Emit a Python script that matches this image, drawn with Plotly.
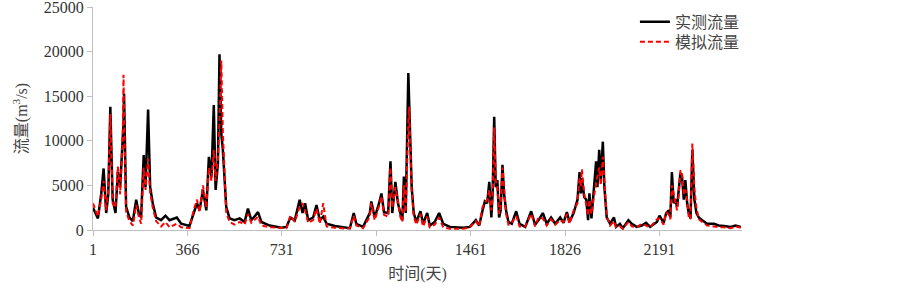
import plotly.graph_objects as go

days = [1, 10, 20, 33, 42, 52, 60, 68, 77, 88, 97, 106, 116, 119, 121, 129, 142, 155, 168, 178,
        187, 197, 204, 214, 222, 232, 245, 264, 281, 297, 325, 342, 374, 390, 403, 413, 426, 439,
        449, 459, 468, 475, 484, 490, 497, 503, 510, 516, 529, 548, 568, 587, 600, 613, 639, 652,
        684, 729, 749, 764, 781, 800, 811, 821, 833, 852, 865, 878, 891, 904, 936, 981, 994, 1009,
        1019, 1045, 1071, 1077, 1090, 1107, 1116, 1126, 1142, 1151, 1158, 1170, 1180, 1189, 1197,
        1203, 1210, 1220, 1223, 1233, 1241, 1251, 1267, 1277, 1293, 1303, 1322, 1339, 1355, 1381,
        1432, 1458, 1481, 1494, 1507, 1516, 1525, 1533, 1541, 1546, 1552, 1558, 1564, 1571, 1577,
        1584, 1590, 1598, 1607, 1620, 1637, 1650, 1672, 1695, 1710, 1723, 1740, 1755, 1772, 1788,
        1807, 1820, 1833, 1843, 1859, 1874, 1882, 1887, 1891, 1900, 1908, 1915, 1920, 1928, 1936,
        1946, 1951, 1958, 1964, 1972, 1978, 1987, 2000, 2015, 2023, 2038, 2049, 2071, 2084, 2103,
        2122, 2139, 2155, 2181, 2191, 2207, 2217, 2227, 2233, 2239, 2246, 2252, 2259, 2265, 2272,
        2278, 2285, 2291, 2298, 2304, 2311, 2318, 2326, 2334, 2343, 2356, 2375, 2401, 2420, 2440,
        2466, 2485, 2505]

observed = [2500, 2000, 1300, 4100, 6900, 1900, 4000, 13800, 3400, 1900, 6500, 4800, 10000, 12000, 15300,
            2600, 1400, 1000, 3400, 1900, 1400, 8400, 4800, 13500, 4800, 3000, 1400, 1100, 1600, 1100,
            1400, 700, 450, 1900, 3000, 2200, 4500, 2200, 8200, 6000, 14000, 4500, 7500, 19700, 10800,
            9000, 4800, 2600, 1300, 1100, 1300, 900, 2400, 1100, 2000, 900, 500, 250, 350, 1400, 1100,
            3400, 1900, 3000, 1100, 1400, 2800, 1100, 1500, 700, 450, 200, 200, 1900, 700, 350, 1900,
            3200, 1400, 3000, 4100, 2000, 1900, 7700, 1900, 5400, 3000, 1900, 1100, 6000, 1900, 17600,
            14000, 4800, 1900, 900, 2100, 700, 1900, 500, 900, 1900, 700, 350, 250, 350, 1100, 500,
            2200, 3200, 3000, 5400, 1400, 4100, 12700, 4800, 5600, 1400, 2200, 7300, 4100, 2200, 900,
            700, 2100, 700, 350, 2100, 600, 1100, 1900, 700, 1400, 700, 1400, 800, 2000, 900, 1900,
            3400, 6500, 4100, 5800, 3700, 3400, 1100, 4100, 1300, 4100, 7700, 4800, 9000, 5600, 9900,
            4800, 1400, 700, 1400, 350, 700, 200, 1100, 700, 350, 500, 800, 350, 900, 1600, 800, 1900,
            2200, 1400, 6500, 3000, 3400, 2600, 4100, 6400, 6000, 3400, 5600, 3000, 1900, 1300, 9000,
            3400, 1900, 1400, 1100, 700, 700, 500, 450, 350, 500, 350]

simulated = [3000, 2300, 1500, 3500, 5500, 2200, 4500, 13000, 3000, 2500, 7100, 4000, 10500, 17400, 13000,
             2000, 1000, 500, 2800, 1500, 700, 7000, 4500, 8000, 4200, 2500, 1000, 400, 900, 300,
             700, 300, 200, 2200, 3400, 2000, 5000, 2500, 7000, 5500, 9000, 5500, 8000, 12000, 19000,
             11000, 5500, 2000, 900, 600, 900, 600, 1800, 800, 1500, 500, 300, 200, 200, 1600, 900,
             2600, 3000, 2200, 800, 1100, 2400, 700, 3000, 400, 250, 150, 200, 1600, 500, 200, 1500,
             3000, 1100, 2700, 3800, 1700, 1500, 7000, 2500, 4800, 3300, 1500, 900, 5000, 2000, 12000,
             13800, 4500, 1500, 600, 1800, 400, 1500, 300, 600, 1400, 300, 150, 150, 300, 1000, 400,
             2600, 3000, 3400, 4500, 2200, 3800, 11500, 5500, 5000, 1800, 2500, 7000, 4500, 1800, 600,
             800, 1600, 400, 400, 1800, 400, 1400, 1300, 500, 1200, 600, 1100, 900, 1800, 700, 2200,
             3000, 5800, 4800, 6800, 4000, 2800, 1600, 3400, 1800, 3500, 5500, 6000, 7000, 5000, 8200,
             5500, 1500, 500, 1000, 300, 400, 150, 900, 400, 300, 700, 500, 300, 1200, 1300, 600, 2000,
             1700, 1200, 5000, 4000, 2800, 2200, 3800, 6700, 6300, 4000, 4500, 3400, 1500, 1200, 9700,
             4500, 2500, 1200, 900, 500, 400, 300, 300, 200, 400, 250]

x_ticks = [1, 366, 731, 1096, 1461, 1826, 2191]
y_ticks = [0, 5000, 10000, 15000, 20000, 25000]

font_family = '"Times New Roman", "Liberation Serif", "Noto Sans CJK SC", serif'

fig = go.Figure()
fig.add_trace(go.Scatter(x=days, y=observed, mode="lines", name="实测流量",
                         line=dict(color="black", width=2.5), legend="legend"))
fig.add_trace(go.Scatter(x=days, y=simulated, mode="lines", name="模拟流量",
                         line=dict(color="#ff0000", width=2, dash="5px,3px"), legend="legend2"))

axis_col = "#bfbfbf"
legend_style = dict(xanchor="left", yanchor="top", bgcolor="rgba(0,0,0,0)",
                    font=dict(size=16, color="#444444"), itemwidth=30)
fig.update_layout(
    width=903, height=291,
    margin=dict(l=93, r=161, t=7, b=61, autoexpand=False),
    plot_bgcolor="white", paper_bgcolor="white",
    font=dict(family=font_family, size=16, color="#333333"),
    showlegend=True,
    legend=dict(x=0.835, y=1.01, **legend_style),
    legend2=dict(x=0.835, y=0.92, **legend_style),
    xaxis=dict(range=[1, 2510], tickmode="array", tickvals=x_ticks,
               ticktext=[str(v) for v in x_ticks], automargin=False, ticklabeloverflow="allow",
               showgrid=False, zeroline=False, showline=True, linecolor=axis_col, linewidth=1,
               ticks="outside", ticklen=5, tickcolor=axis_col,
               title=dict(text="时间(天)", standoff=10, font=dict(size=16, color="#444444"))),
    yaxis=dict(range=[0, 25000], tickmode="array", tickvals=y_ticks,
               ticktext=[str(v) for v in y_ticks], automargin=False, ticklabeloverflow="allow",
               showgrid=False, zeroline=False, showline=True, linecolor=axis_col, linewidth=1,
               ticks="outside", ticklen=5, tickcolor=axis_col,
               title=dict(text="流量(m<sup>3</sup>/s)", standoff=12, font=dict(size=16, color="#444444"))),
)

fig.write_html("out.html", config={"displayModeBar": False},
               post_script="document.body.style.margin='0';document.body.style.padding='0';")
